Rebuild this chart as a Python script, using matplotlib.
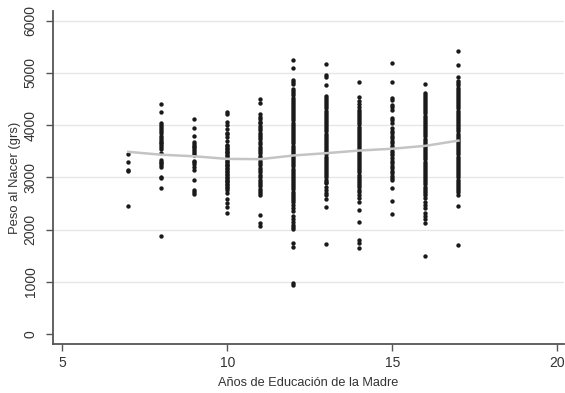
import matplotlib
matplotlib.use("Agg")
import matplotlib.pyplot as plt

plt.rcParams['font.family'] = ['Liberation Sans', 'DejaVu Sans']

# Birth weight (g) observed at each level of mother's schooling (years)
educ_levels = [7, 8, 9, 10, 11, 12, 13, 14, 15, 16, 17]

peso_7 = [3450, 3300, 3150, 3130, 2450]
peso_8 = [4400, 4250, 4040, 4010, 3975, 3930, 3890, 3860, 3785, 3750, 3720,
          3685, 3655, 3625, 3580, 3540, 3470, 3335, 3305, 3270, 3235, 3200,
          3005, 2980, 2805, 1885]
peso_9 = [4115, 3945, 3800, 3670, 3635, 3610, 3580, 3545, 3515, 3475, 3430,
          3320, 3290, 3260, 3195, 3145, 2955, 2755, 2715, 2680]
peso_10 = [4250, 4205, 4070, 3995, 3925, 3860, 3830, 3770, 3700,
           3625, 3600, 3570, 3545, 3515, 3490, 3460, 3435, 3405, 3380, 3350,
           3320, 3295, 3265, 3240, 3210, 3185, 3155, 3125, 3100, 3070, 3045,
           3015, 2990, 2960, 2935, 2905, 2880, 2850, 2820, 2795, 2765,
           2700, 2585, 2505, 2440, 2315]
peso_11 = [4505, 4420, 4210, 4165, 4115, 4070,
           4040, 3990, 3950, 3910, 3860, 3820, 3770, 3730, 3680, 3640, 3590,
           3550, 3500, 3460, 3410, 3370, 3320, 3280, 3230, 3190, 3140, 3100,
           3050, 3010, 2960, 2920, 2870, 2830, 2780, 2740, 2700, 2665,
           2290, 2130, 2070]
peso_12 = [5250, 5095, 4870, 4825, 4790,
           4690, 4650, 4610, 4570, 4530, 4490, 4450, 4410, 4370, 4330, 4290,
           4250, 4210, 4170, 4130, 4090, 4050, 4010, 3970, 3930, 3890, 3850,
           3810, 3770, 3730, 3690, 3650, 3610, 3570, 3530, 3490, 3450, 3410,
           3370, 3330, 3290, 3250, 3210, 3170, 3130, 3090, 3050, 3010, 2970,
           2930, 2890, 2850, 2810, 2770, 2730, 2690, 2650, 2610, 2570, 2535,
           2470, 2420, 2350, 2270, 2200, 2150, 2090, 2045, 2005, 1740, 1660,
           970, 950]
peso_13 = [5175, 4965, 4920, 4760,
           4560, 4520, 4480, 4440, 4400, 4360, 4320, 4280, 4240, 4200, 4160,
           4120, 4080, 4040, 4000, 3960, 3920, 3880, 3840, 3800, 3760, 3720,
           3680, 3640, 3600, 3560, 3520, 3480, 3440, 3400, 3360, 3320, 3280,
           3240, 3200, 3160, 3120, 3080, 3040, 3000, 2960, 2920, 2890,
           2825, 2760, 2700, 2665, 2580, 2440, 1725]
peso_14 = [4830, 4540, 4455, 4410, 4355,
           4295, 4255, 4215, 4175, 4135, 4095, 4055, 4015, 3975, 3935, 3895,
           3855, 3815, 3775, 3735, 3695, 3655, 3615, 3575, 3535, 3495, 3455,
           3415, 3375, 3335, 3295, 3255, 3215, 3175, 3135, 3095, 3055, 3015,
           2975, 2935, 2895, 2855, 2825,
           2760, 2720, 2660, 2600, 2535, 2375, 2155, 1800, 1750, 1645]
peso_15 = [5190, 4825, 4520, 4485, 4390, 4355, 4295, 4135, 4100, 4040, 3945,
           3880, 3850, 3800, 3755, 3705, 3660, 3610, 3560, 3515, 3465, 3420,
           3370, 3320, 3275, 3225, 3180, 3130, 3080, 3035, 2990, 2950,
           2805, 2555, 2295]
peso_16 = [4795,
           4625, 4585, 4545, 4505, 4465, 4425, 4385, 4345, 4305, 4265, 4225,
           4185, 4145, 4105, 4065, 4025, 3985, 3945, 3905, 3865, 3825, 3785,
           3745, 3705, 3665, 3625, 3585, 3545, 3505, 3465, 3425, 3385, 3345,
           3305, 3265, 3225, 3185, 3145, 3105, 3065, 3025, 2985, 2945, 2905,
           2865, 2825, 2785, 2745, 2705, 2665,
           2600, 2535, 2475, 2410, 2325, 2270, 2200, 2120, 1495]
peso_17 = [5425, 5145, 4920,
           4840, 4800, 4760, 4720, 4680, 4640, 4600, 4560, 4520, 4480, 4440,
           4400, 4360, 4320, 4280, 4240, 4200, 4160, 4120, 4080, 4040, 4000,
           3960, 3920, 3880, 3840, 3800, 3760, 3720, 3680, 3640, 3600, 3560,
           3520, 3480, 3440, 3400, 3360, 3320, 3280, 3240, 3200, 3160, 3120,
           3080, 3040, 3000, 2960, 2920, 2880, 2840, 2800, 2760, 2720, 2665,
           2460, 1700]

peso_por_nivel = [peso_7, peso_8, peso_9, peso_10, peso_11, peso_12,
                  peso_13, peso_14, peso_15, peso_16, peso_17]

# Smoothed (lowess) birth weight by schooling level
lowess_peso = [3490, 3435, 3405, 3355, 3350, 3420, 3465, 3515, 3550, 3605, 3705]

x_ticks = [5, 10, 15, 20]
y_ticks = [0, 1000, 2000, 3000, 4000, 5000, 6000]

fig = plt.figure(figsize=(5.65, 3.93), dpi=100)
ax = fig.add_axes([0.0938, 0.125, 0.904, 0.847])

for yv in y_ticks[1:]:
    ax.axhline(yv, color='#e6e6e6', lw=1.0, zorder=0)

for nivel, pesos in zip(educ_levels, peso_por_nivel):
    ax.scatter([nivel] * len(pesos), pesos, s=10, color='#1a1a1a',
               linewidths=0, zorder=2)

ax.plot(educ_levels, lowess_peso, color='#c4c4c4', lw=1.8, zorder=3)

ax.set_xlim(4.72, 20.19)
ax.set_ylim(-186, 6186)
ax.set_xticks(x_ticks)
ax.set_yticks(y_ticks)

for side in ('top', 'right'):
    ax.spines[side].set_visible(False)
for side in ('left', 'bottom'):
    ax.spines[side].set_color('#555555')
    ax.spines[side].set_linewidth(1.3)

ax.tick_params(axis='both', colors='#555555', labelcolor='#333333',
               length=5, width=1.0, labelsize=10)
ax.tick_params(axis='y', pad=6)
ax.tick_params(axis='x', pad=4)
for lbl in ax.get_yticklabels():
    lbl.set_rotation(90)
    lbl.set_va('center')

ax.set_xlabel('Años de Educación de la Madre', fontsize=9.2,
              color='#333333', labelpad=5)
ax.set_ylabel('Peso al Nacer (grs)', fontsize=9.4, color='#333333',
              labelpad=2)

fig.savefig('out.png', dpi=100, facecolor='white')
